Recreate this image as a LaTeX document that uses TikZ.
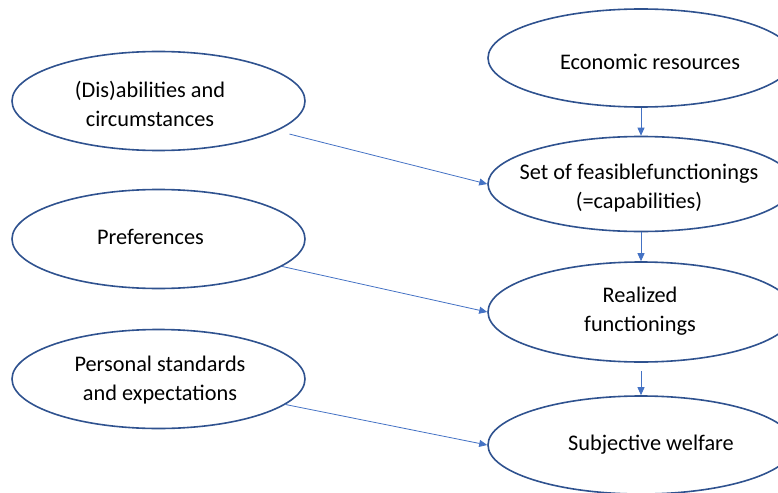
\documentclass[tikz,border=0pt]{standalone}
\usepackage{fontspec}
\setmainfont{Carlito}
\usetikzlibrary{arrows.meta,shapes.geometric}

\definecolor{ovalline}{HTML}{2F528F}
\definecolor{arrowline}{HTML}{4472C4}

\begin{document}
\begin{tikzpicture}[
      x=1pt, y=-1pt,
      oval/.style={ellipse, draw=ovalline, line width=1.6pt, fill=white, inner sep=0pt},
      left/.style={oval, minimum width=293pt, minimum height=99pt},
      right/.style={oval, minimum width=306pt, minimum height=98pt},
      txt/.style={align=center, inner sep=0pt, font=\fontsize{22.3}{29}\selectfont},
      link/.style={draw=arrowline, line width=0.8pt},
      >={Triangle[length=8pt, width=7pt]}
    ]
    \useasboundingbox (0,0) rectangle (778,492);
    % inputs on the left
    \node[left] (dis) at (158.5,101) {};
    \node[left] (pref) at (158.5,239) {};
    \node[left] (pers) at (158.5,379) {};
    \node[txt] (distext) at (150,104) {(Dis)abilities and\\circumstances};
    \node[txt] (preftext) at (150.5,237) {Preferences};
    \node[txt] (perstext) at (160,380) {Personal standards\\and expectations};
    % main chain on the right
    \node[right] (econ) at (641,58) {};
    \node[right, minimum height=95pt] (set) at (641,184) {};
    \node[right, minimum height=100pt] (real) at (641,312) {};
    \node[right] (subj) at (641,445) {};
    \node[txt] (econtext) at (650,62) {Economic resources};
    \node[txt] (settext) at (639,188) {Set of feasiblefunctionings\\(=capabilities)};
    \node[txt] (realtext) at (640,311) {Realized\\functionings};
    \node[txt] (subjtext) at (651,445) {Subjective welfare};
    \draw[link, ->] (econ) -- (set);
    \draw[link, ->] (set) -- (real);
    \draw[link, ->, shorten <=8pt] (real) -- (subj);
    \draw[link, ->, shorten <=13pt] (dis) -- (set.west);
    \draw[link, ->] (pref) -- (real.west);
    \draw[link, ->] (pers) -- (subj.west);
  \end{tikzpicture}
\end{document}
